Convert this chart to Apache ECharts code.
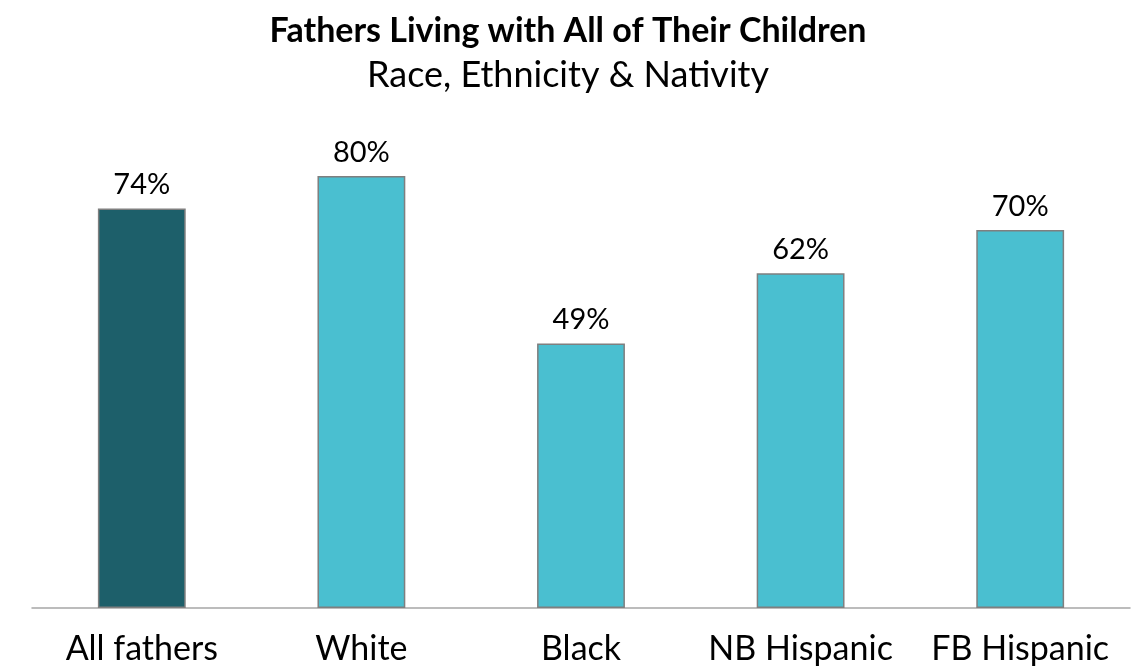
<!DOCTYPE html>
<html>
<head>
<meta charset="utf-8">
<script src="https://cdn.jsdelivr.net/npm/echarts@6/dist/echarts.min.js"></script>
<style>html,body{margin:0;padding:0;background:#fff}#c{width:1136px;height:667px}</style>
</head>
<body>
<div id="c"></div>
<script>
const categories = ['All fathers', 'White', 'Black', 'NB Hispanic', 'FB Hispanic'];
const values = [74, 80, 49, 62, 70];
const barColors = ['#1D5F6A', '#4ABFD0', '#4ABFD0', '#4ABFD0', '#4ABFD0'];

const chart = echarts.init(document.getElementById('c'));
chart.setOption({
  animation: false,
  title: {
    text: 'Fathers Living with All of Their Children',
    subtext: 'Race, Ethnicity & Nativity',
    left: 'center',
    top: 9,
    itemGap: 9,
    textStyle: { fontFamily: 'Lato', fontWeight: 'bold', fontSize: 34, color: '#000' },
    subtextStyle: { fontFamily: 'Lato', fontSize: 36, color: '#000' }
  },
  grid: { left: 32, right: 6, top: 68, bottom: 59 },
  xAxis: {
    type: 'category',
    data: categories,
    axisLine: { lineStyle: { color: '#A6A6A6', width: 1.5 } },
    axisTick: { show: false },
    axisLabel: { interval: 0, fontFamily: 'Lato', fontSize: 34, color: '#000', margin: 24 }
  },
  yAxis: { type: 'value', min: 0, max: 100, show: false },
  series: [{
    type: 'bar',
    barWidth: '40%',
    data: values.map((v, i) => ({ value: v, itemStyle: { color: barColors[i] } })),
    itemStyle: { borderColor: '#7F7F7F', borderWidth: 1.5 },
    label: {
      show: true, position: 'top', distance: 9,
      formatter: p => p.value + '%',
      fontFamily: 'Lato', fontSize: 29, color: '#000'
    }
  }]
});
</script>
</body>
</html>
